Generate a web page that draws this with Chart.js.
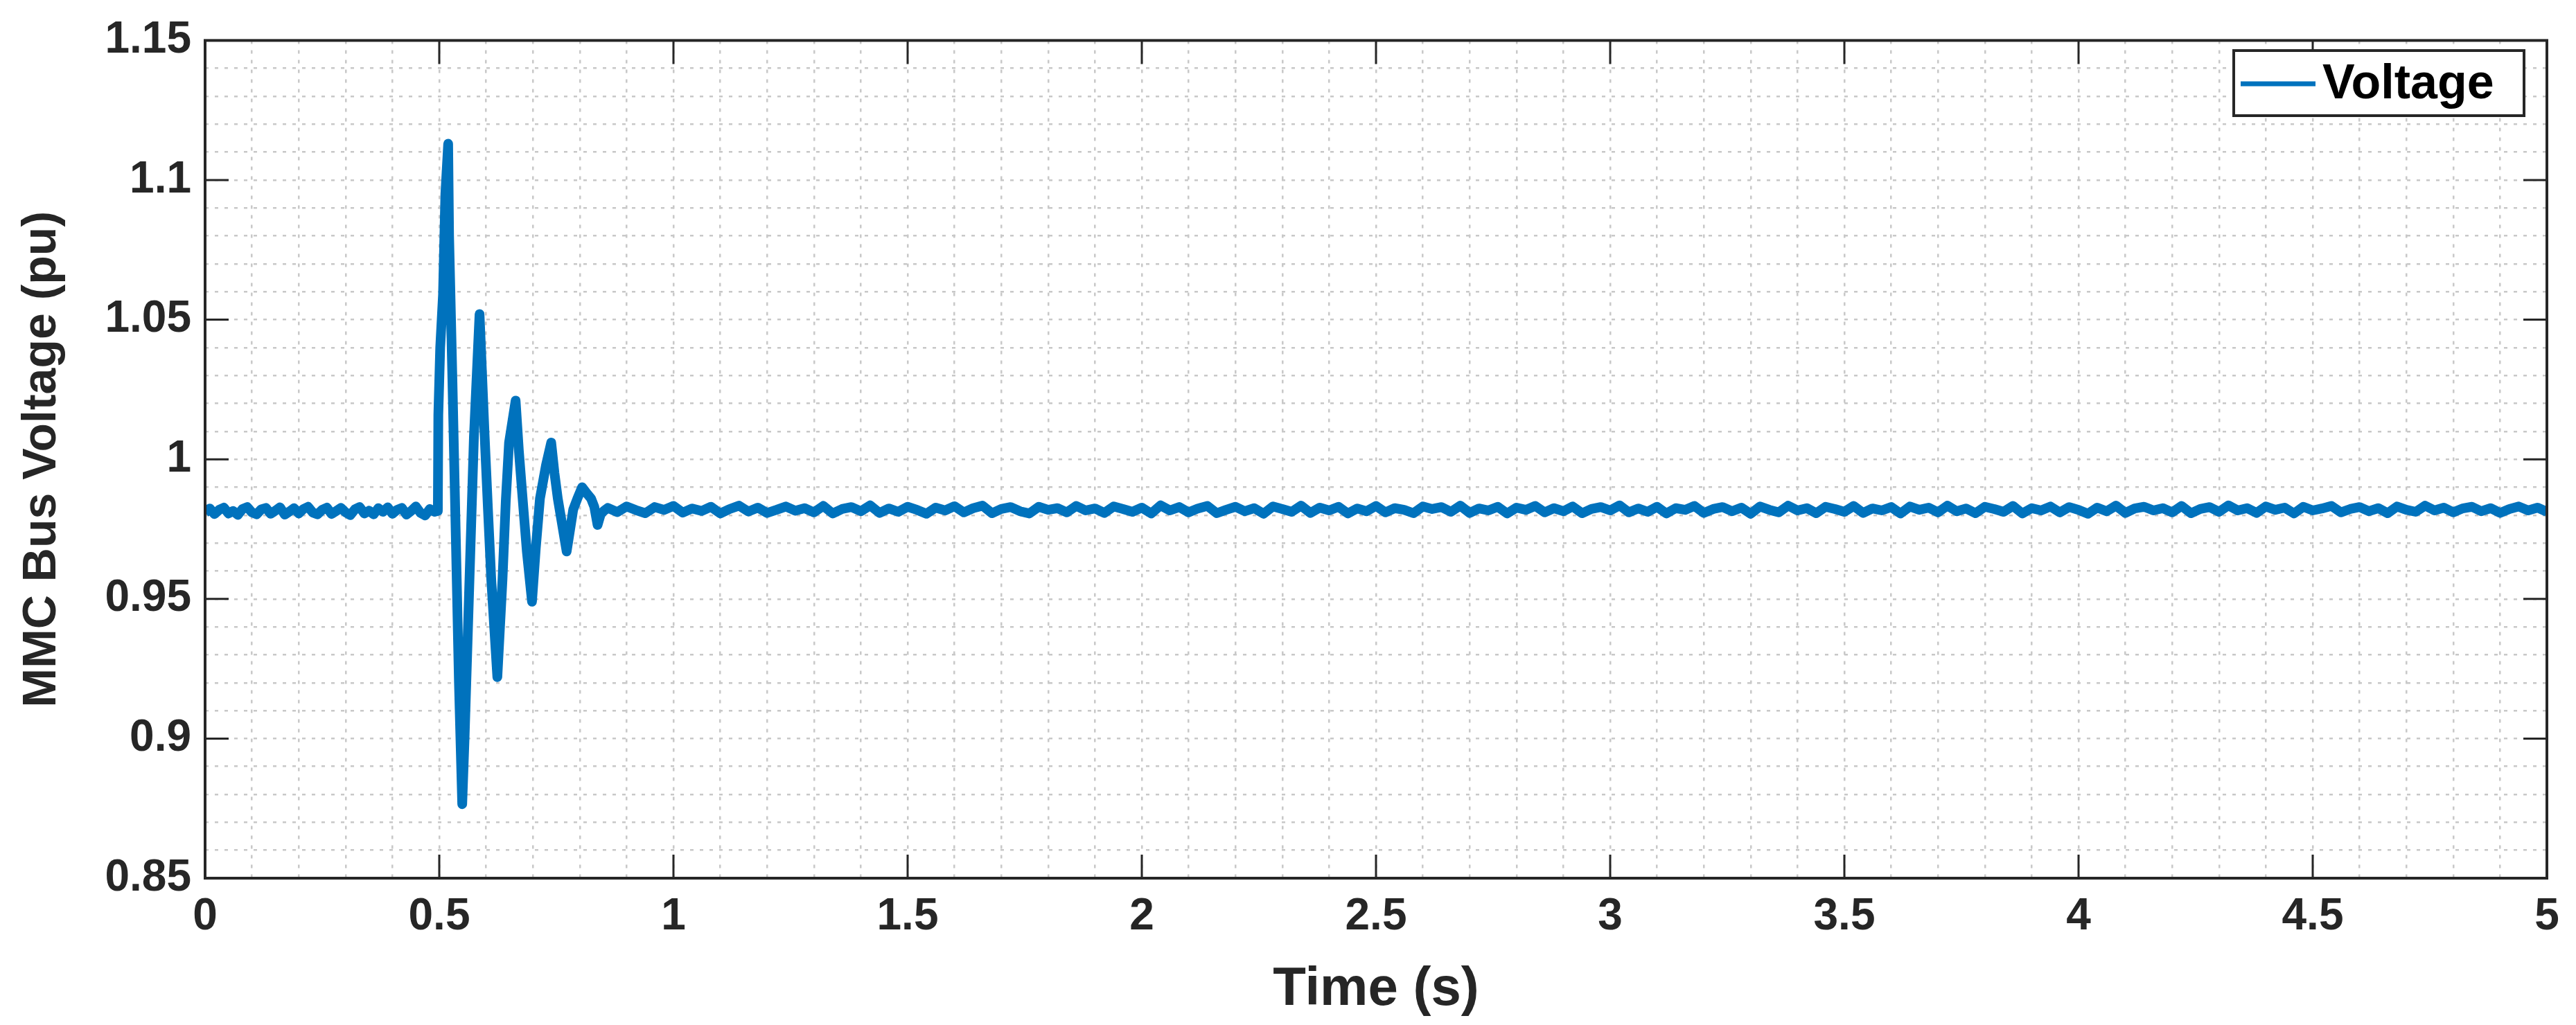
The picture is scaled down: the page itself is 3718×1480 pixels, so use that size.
<!DOCTYPE html>
<html><head><meta charset="utf-8">
<script src="https://cdn.jsdelivr.net/npm/chart.js@4"></script>
<style>html,body{margin:0;padding:0;background:#fff}#w{width:3718px;height:1480px}</style>
</head><body><div id="w"><canvas id="c"></canvas></div>
<script>
const seriesName = "Voltage";
const xTitle = "Time (s)";
const yTitle = "MMC Bus Voltage (pu)";
// steady state before the fault, t = 0 .. 0.49 step 0.01
const preStart = 0, preStep = 0.01;
const preVoltage = [0.9808,0.9824,0.9804,0.9819,0.9827,0.9806,0.9815,0.9801,0.9822,0.9829,
0.9810,0.9803,0.9821,0.9826,0.9805,0.9816,0.9828,0.9802,0.9813,0.9825,
0.9806,0.9822,0.9830,0.9809,0.9803,0.9819,0.9827,0.9804,0.9815,0.9826,
0.9810,0.9800,0.9821,0.9829,0.9806,0.9816,0.9803,0.9825,0.9812,0.9828,
0.9805,0.9819,0.9826,0.9802,0.9815,0.9831,0.9808,0.9799,0.9822,0.9812];
// transient
const transTime = [0.497,0.498,0.502,0.508,0.513,0.519,0.521,0.528,0.536,0.542,0.549,0.554,0.559,0.566,0.574,0.586,0.597,0.604,0.611,0.624,0.635,0.642,0.649,0.663,0.670,0.677,0.687,0.698,0.706,0.715,0.728,0.739,0.746,0.753,0.772,0.786,0.795,0.805,0.814,0.824,0.831,0.838,0.845,0.852];
const transVoltage = [0.9815,1.016,1.040,1.059,1.095,1.113,1.080,1.029,0.967,0.920,0.8765,0.900,0.927,0.965,1.008,1.052,1.008,0.982,0.957,0.922,0.957,0.985,1.006,1.021,1.003,0.988,0.967,0.949,0.968,0.986,0.998,1.006,0.995,0.986,0.967,0.982,0.986,0.990,0.988,0.986,0.983,0.9765,0.9805,0.9816];
// steady state after recovery, t = 0.86 .. 5.00 step 0.02
const postStart = 0.86, postStep = 0.02;
const postVoltage = [0.9826,0.9811,0.9831,0.9818,0.9807,0.9829,0.9819,0.9833,0.9809,0.9824,0.9815,0.9830,0.9806,0.9822,0.9834,0.9813,0.9827,0.9808,0.9819,0.9831,
0.9816,0.9825,0.9810,0.9833,0.9806,0.9822,0.9829,0.9814,0.9835,0.9808,0.9824,0.9812,0.9830,0.9819,0.9805,0.9827,0.9817,0.9832,0.9810,0.9825,
0.9834,0.9807,0.9822,0.9829,0.9814,0.9806,0.9830,0.9819,0.9825,0.9810,0.9833,0.9817,0.9824,0.9808,0.9831,0.9822,0.9812,0.9827,0.9806,0.9835,
0.9817,0.9829,0.9810,0.9824,0.9833,0.9807,0.9819,0.9830,0.9814,0.9825,0.9805,0.9831,0.9822,0.9812,0.9834,0.9808,0.9827,0.9817,0.9830,0.9806,
0.9824,0.9814,0.9833,0.9810,0.9825,0.9819,0.9807,0.9831,0.9822,0.9829,0.9812,0.9834,0.9808,0.9824,0.9817,0.9830,0.9806,0.9827,0.9819,0.9833,
0.9810,0.9825,0.9814,0.9831,0.9807,0.9822,0.9829,0.9817,0.9835,0.9810,0.9824,0.9812,0.9830,0.9806,0.9825,0.9819,0.9833,0.9808,0.9822,0.9829,
0.9814,0.9827,0.9805,0.9831,0.9819,0.9810,0.9834,0.9817,0.9825,0.9807,0.9830,0.9822,0.9812,0.9833,0.9808,0.9824,0.9817,0.9829,0.9806,0.9831,
0.9819,0.9827,0.9810,0.9834,0.9814,0.9824,0.9807,0.9830,0.9822,0.9812,0.9833,0.9806,0.9825,0.9817,0.9831,0.9810,0.9829,0.9819,0.9805,0.9827,
0.9814,0.9834,0.9808,0.9824,0.9830,0.9817,0.9825,0.9810,0.9833,0.9807,0.9822,0.9829,0.9812,0.9835,0.9817,0.9825,0.9808,0.9831,0.9819,0.9827,
0.9806,0.9830,0.9817,0.9824,0.9833,0.9810,0.9822,0.9829,0.9814,0.9825,0.9807,0.9831,0.9819,0.9812,0.9834,0.9817,0.9827,0.9810,0.9824,0.9830,
0.9814,0.9825,0.9808,0.9822,0.9831,0.9817,0.9827,0.9812];
const xMajorTicks = [0,0.5,1,1.5,2,2.5,3,3.5,4,4.5,5];
const yMajorTicks = [0.85,0.9,0.95,1,1.05,1.1,1.15];

const pts = [];
preVoltage.forEach((v,i)=>pts.push({x:+(preStart+i*preStep).toFixed(3),y:v}));
transTime.forEach((t,i)=>pts.push({x:t,y:transVoltage[i]}));
postVoltage.forEach((v,i)=>pts.push({x:+(postStart+i*postStep).toFixed(3),y:v}));

const FONT = "'Liberation Sans', Arial, sans-serif";
const AX = '#262626';
const isMajor = (v, arr) => arr.some(m => Math.abs(m - v) < 1e-6);

const frame = {
  id:'frame',
  afterDatasetsDraw(chart){
    const {ctx, chartArea:a, scales:{x,y}} = chart;
    ctx.save();
    ctx.strokeStyle = AX; ctx.lineWidth = 4;
    ctx.strokeRect(a.left, a.top, a.right-a.left, a.bottom-a.top);
    ctx.lineWidth = 3;
    const tl = 34;
    xMajorTicks.forEach(v=>{const px=x.getPixelForValue(v);
      ctx.beginPath();ctx.moveTo(px,a.bottom);ctx.lineTo(px,a.bottom-tl);ctx.moveTo(px,a.top);ctx.lineTo(px,a.top+tl);ctx.stroke();});
    yMajorTicks.forEach(v=>{const py=y.getPixelForValue(v);
      ctx.beginPath();ctx.moveTo(a.left,py);ctx.lineTo(a.left+tl,py);ctx.moveTo(a.right,py);ctx.lineTo(a.right-tl,py);ctx.stroke();});
    // legend
    const lx=3224, ly=73, lw=419, lh=94;
    ctx.fillStyle='#fff'; ctx.fillRect(lx,ly,lw,lh);
    ctx.strokeStyle=AX; ctx.lineWidth=4; ctx.strokeRect(lx,ly,lw,lh);
    ctx.strokeStyle='#0072BD'; ctx.lineWidth=7;
    ctx.beginPath(); ctx.moveTo(lx+10,ly+48); ctx.lineTo(lx+118,ly+48); ctx.stroke();
    ctx.fillStyle='#000'; ctx.font='bold 70px '+FONT; ctx.textBaseline='middle'; ctx.textAlign='left';
    ctx.fillText(seriesName, lx+128, ly+50);
    ctx.restore();
  }
};

new Chart(document.getElementById('c'), {
  type:'line',
  data:{datasets:[{label:seriesName,data:pts,borderColor:'#0072BD',borderWidth:14,pointRadius:0,tension:0,borderJoinStyle:'round'}]},
  options:{
    responsive:true, maintainAspectRatio:false, animation:false,
    layout:{padding:{top:46,right:42,left:0,bottom:0}},
    plugins:{legend:{display:false},tooltip:{enabled:false}},
    scales:{
      x:{type:'linear',min:0,max:5,
        afterFit(s){s.height=212;},
        afterBuildTicks(s){const t=[];for(let i=0;i<=50;i++)t.push({value:+(i*0.1).toFixed(2)});s.ticks=t;},
        grid:{color:'#c8c8c8',lineWidth:2.5,drawTicks:false},
        border:{display:false,dash:[5,9]},
        ticks:{autoSkip:false,maxRotation:0,padding:18,color:AX,font:{family:FONT,weight:'bold',size:64},
          callback:v=>isMajor(v,xMajorTicks)?String(+v.toFixed(2)):''},
        title:{display:true,text:xTitle,color:AX,padding:{top:8},font:{family:FONT,weight:'bold',size:78}}
      },
      y:{type:'linear',min:0.85,max:1.15,
        afterFit(s){s.width=296;},
        afterBuildTicks(s){const t=[];for(let i=0;i<=30;i++)t.push({value:+(0.85+i*0.01).toFixed(2)});s.ticks=t;},
        grid:{color:'#c8c8c8',lineWidth:2.5,drawTicks:false},
        border:{display:false,dash:[5,9]},
        ticks:{autoSkip:false,padding:20,color:AX,font:{family:FONT,weight:'bold',size:64},
          callback:v=>isMajor(v,yMajorTicks)?String(+v.toFixed(2)):''},
        title:{display:true,text:yTitle,color:AX,padding:{bottom:0,top:20},font:{family:FONT,weight:'bold',size:68}}
      }
    }
  },
  plugins:[frame]
});
</script></body></html>
